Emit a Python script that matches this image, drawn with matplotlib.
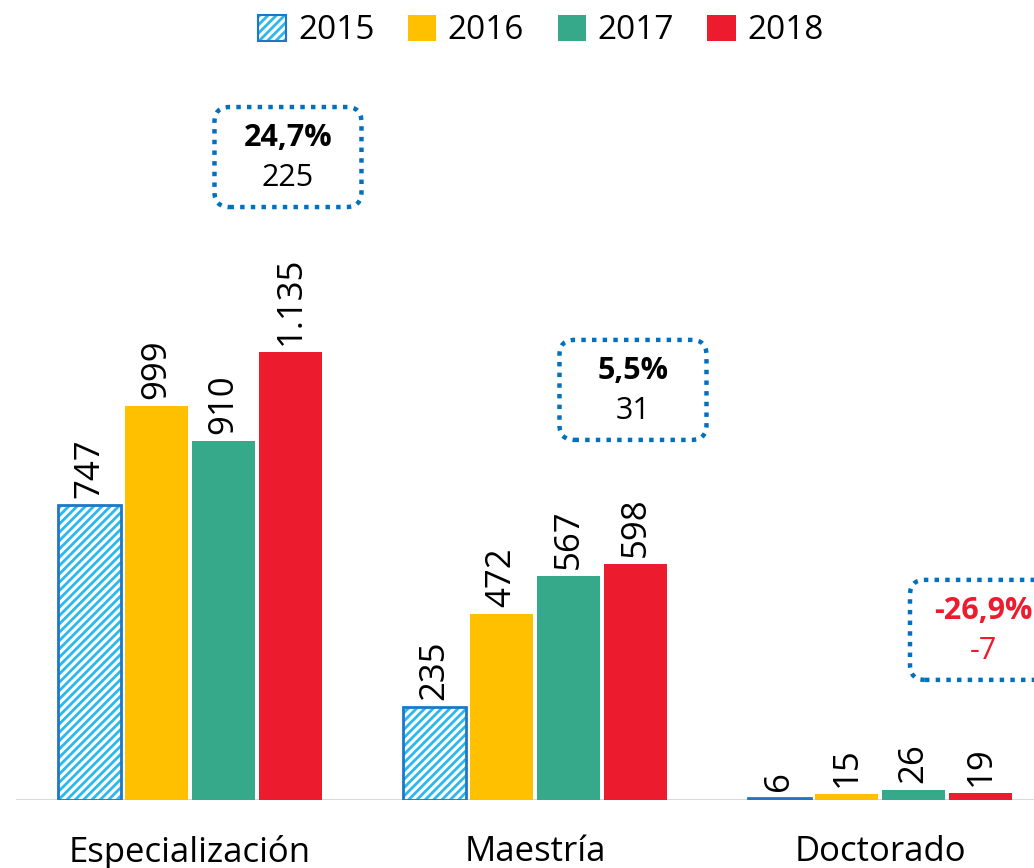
import matplotlib
matplotlib.use('Agg')
import matplotlib.pyplot as plt
from matplotlib import font_manager
from matplotlib.patches import FancyBboxPatch, Patch
from matplotlib.legend_handler import HandlerTuple
from matplotlib.transforms import ScaledTranslation
import numpy as np

# pick a condensed font if there is one
family = 'DejaVu Sans'
for name in ['Liberation Sans Narrow', 'Open Sans', 'Noto Sans']:
    try:
        font_manager.findfont(name, fallback_to_default=False)
        family = name
        break
    except ValueError:
        pass
plt.rcParams['font.family'] = [family, 'DejaVu Sans']
plt.rcParams['hatch.linewidth'] = 2.0

categories = ['Especialización', 'Maestría', 'Doctorado']
years = ['2015', '2016', '2017', '2018']
v2015 = [747, 235, 6]
v2016 = [999, 472, 15]
v2017 = [910, 567, 26]
v2018 = [1135, 598, 19]
pct_change = ['24,7%', '5,5%', '-26,9%']
abs_change = ['225', '31', '-7']

series = [v2015, v2016, v2017, v2018]
colors = ['white', '#FFC000', '#36A98A', '#EC1C2E']
blue_edge = '#1E78C8'
hatch_blue = '#2BB8EE'
box_blue = '#0070C0'

fig = plt.figure(figsize=(10.34, 8.68), dpi=100)
ax = fig.add_axes([0, 68 / 868, 1, 800 / 868])

x = np.arange(len(categories))
pitch = 67 / 345
width = 63 / 345

for i, vals in enumerate(series):
    xs = x + (i - 1.5) * pitch
    if i == 0:
        ax.bar(xs, vals, width, color='white', edgecolor=hatch_blue,
               hatch='////', linewidth=0, zorder=2)
        ax.bar(xs, vals, width, fill=False, edgecolor=blue_edge,
               linewidth=2, zorder=3)
    else:
        ax.bar(xs, vals, width, color=colors[i], linewidth=0, zorder=2)
    for xi, v in zip(xs, vals):
        lab = f'{v:,}'.replace(',', '.')
        ax.annotate(lab, (xi, v), xytext=(0, 5), textcoords='offset points',
                    rotation=90, ha='center', va='bottom', fontsize=25)

ax.set_xlim(-190 / 345, (1034 - 190) / 345)
ax.set_ylim(0, 800 / 0.3947)
ax.axhline(0, xmin=17 / 1034, xmax=1, color='#D9D9D9', lw=1.5, zorder=1)
for s in ax.spines.values():
    s.set_visible(False)
ax.set_yticks([])
ax.set_xticks(x)
ax.set_xticklabels(categories, fontsize=25)
ax.tick_params(axis='x', length=0, pad=25)

# dotted callout boxes with the 2017-2018 change
box_centers = [(0.284, 1629), (1.284, 1039), (2.30, 431)]
for k, (cx, cy) in enumerate(box_centers):
    tr = fig.dpi_scale_trans + ScaledTranslation(cx, cy, ax.transData)
    box = FancyBboxPatch((-0.735 + 0.15, -0.5 + 0.15), 1.47 - 0.3, 1.0 - 0.3,
                         boxstyle='round,pad=0.15', transform=tr,
                         fill=False, edgecolor=box_blue, lw=3.2,
                         linestyle=(0, (1, 1.4)), clip_on=True, zorder=4)
    ax.add_patch(box)
    tc = '#EC1C2E' if pct_change[k].startswith('-') else 'black'
    ax.text(0, 0.19, pct_change[k], transform=tr, ha='center', va='center',
            fontsize=22, fontweight='bold', color=tc)
    ax.text(0, -0.21, abs_change[k], transform=tr, ha='center', va='center',
            fontsize=22, color=tc)

h2015 = (Patch(facecolor='white', edgecolor=hatch_blue, hatch='////', lw=0),
         Patch(fill=False, edgecolor=blue_edge, lw=1.5))
handles = [h2015] + [Patch(facecolor=c) for c in colors[1:]]
leg = fig.legend(handles, years, loc='upper center', bbox_to_anchor=(0.523, 1.018),
                 ncol=4, frameon=False, fontsize=24, handlelength=0.85,
                 handleheight=0.85, handletextpad=0.35, columnspacing=1.0,
                 handler_map={tuple: HandlerTuple(ndivide=1, pad=0)})

fig.savefig('out.png', dpi=100)
